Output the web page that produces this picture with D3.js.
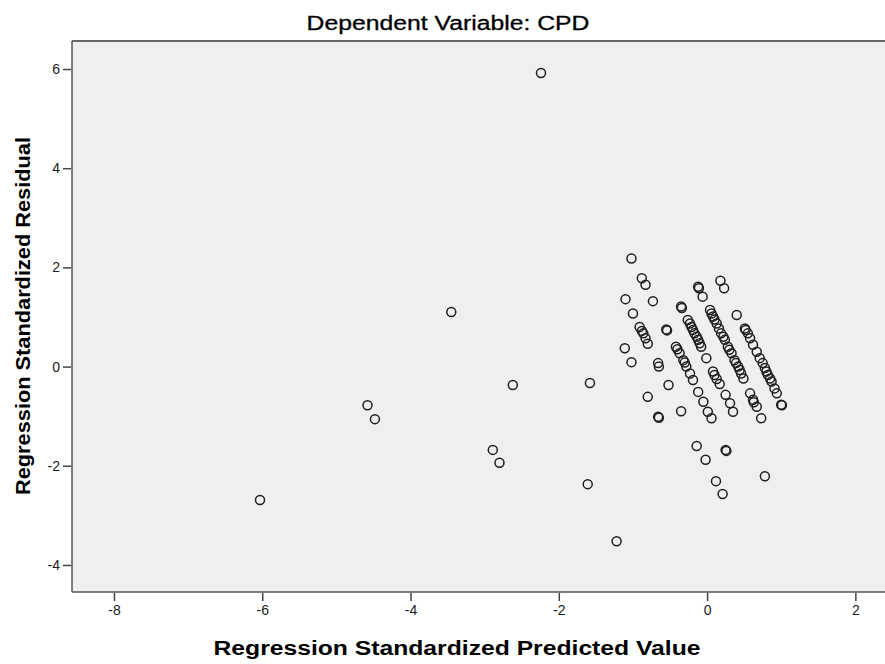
<!DOCTYPE html>
<html>
<head>
<meta charset="utf-8">
<script src="https://cdn.jsdelivr.net/npm/d3@7"></script>
<style>
html,body{margin:0;padding:0;background:#fff;}
svg{display:block;}
</style>
</head>
<body>
<svg id="chart" width="885" height="664"></svg>
<script>
// ---- data ----
const chartTitle = "Dependent Variable: CPD";
const xTitle = "Regression Standardized Predicted Value";
const yTitle = "Regression Standardized Residual";
const xTicks = [-8, -6, -4, -2, 0, 2];
const yTicks = [-4, -2, 0, 2, 4, 6];

const predicted = [
  -2.24,-3.45,-4.58,-4.48,-6.03,-2.62,-2.89,-2.80,-1.58,-1.61,-1.22,
  -1.02,-0.88,-0.83,-1.10,-0.73,-1.00,-0.91,-0.88,-0.86,-0.83,-0.80,-0.55,-0.54,-1.11,-1.02,-0.66,-0.65,-0.52,-0.80,-0.66,-0.65,-0.35,
  -0.42,-0.40,-0.37,-0.32,-0.30,-0.28,-0.23,-0.19,-0.12,-0.05,0.01,0.06,
  -0.35,-0.34,-0.26,-0.23,-0.21,-0.19,-0.17,-0.14,-0.12,-0.10,-0.08,-0.01,0.08,0.10,0.13,0.17,0.25,0.31,0.35,
  -0.12,-0.11,-0.06,0.18,0.23,
  0.04,0.06,0.08,0.10,0.13,0.16,0.19,0.22,0.24,0.28,0.30,0.33,0.37,0.39,0.42,0.44,0.46,0.49,
  0.40,
  0.51,0.52,0.55,0.58,0.62,0.67,0.71,0.75,0.78,0.80,0.82,0.85,0.87,0.91,0.94,1.00,1.01,
  0.58,0.62,0.63,0.67,0.73,
  -0.14,-0.02,0.25,0.26,0.12,0.21,0.78
];
const residual = [
  5.92,1.10,-0.78,-1.06,-2.69,-0.37,-1.68,-1.94,-0.33,-2.37,-3.52,
  2.18,1.78,1.65,1.36,1.32,1.07,0.80,0.72,0.67,0.57,0.46,0.75,0.73,0.37,0.09,0.07,0.00,-0.37,-0.61,-1.01,-1.03,-0.90,
  0.40,0.35,0.27,0.13,0.08,0.00,-0.14,-0.27,-0.51,-0.71,-0.91,-1.04,
  1.21,1.18,0.94,0.87,0.80,0.74,0.67,0.60,0.54,0.47,0.40,0.17,-0.10,-0.17,-0.25,-0.35,-0.57,-0.74,-0.91,
  1.61,1.58,1.41,1.73,1.58,
  1.14,1.07,1.01,0.95,0.87,0.77,0.67,0.60,0.54,0.40,0.34,0.27,0.13,0.07,0.00,-0.07,-0.14,-0.24,
  1.04,
  0.77,0.74,0.67,0.57,0.44,0.30,0.17,0.07,-0.03,-0.10,-0.17,-0.24,-0.30,-0.44,-0.54,-0.77,-0.78,
  -0.54,-0.67,-0.72,-0.81,-1.04,
  -1.60,-1.88,-1.68,-1.70,-2.31,-2.57,-2.21
];

// ---- layout ----
const svg = d3.select("#chart");
const L = 72, T = 41, B = 592, R = 885;

const x = d3.scaleLinear().domain([-8.566, 2.40]).range([L, R]);
const y = d3.scaleLinear().domain([-4.545, 6.565]).range([B, T]);

// plot background
svg.append("rect").attr("x", L).attr("y", T).attr("width", R - L).attr("height", B - T)
  .attr("fill", "#efefef");

// points
const pts = predicted.map((p, i) => ({p, r: residual[i]}));
svg.append("g").selectAll("circle").data(pts).enter().append("circle")
  .attr("cx", d => x(d.p)).attr("cy", d => y(d.r)).attr("r", 4.5)
  .attr("fill", "none").attr("stroke", "#1e1e1e").attr("stroke-width", 1.5);

// frame: top, left, bottom
svg.append("line").attr("x1", L).attr("x2", R).attr("y1", T).attr("y2", T)
  .attr("stroke", "#666").attr("stroke-width", 2);
svg.append("line").attr("x1", L).attr("x2", R).attr("y1", B).attr("y2", B)
  .attr("stroke", "#555").attr("stroke-width", 1.5);
svg.append("line").attr("x1", L).attr("x2", L).attr("y1", T).attr("y2", B)
  .attr("stroke", "#555").attr("stroke-width", 1.5);

const fmt = d => String(d); // plain hyphen-minus as in the reference

// axes
const xAxis = d3.axisBottom(x).tickValues(xTicks).tickSize(8).tickPadding(4).tickFormat(fmt);
const gx = svg.append("g").attr("transform", `translate(0,${B + 1})`).call(xAxis);
gx.select(".domain").remove();
gx.selectAll(".tick line").attr("stroke", "#444").attr("stroke-width", 1.5);
gx.selectAll(".tick text").attr("font-family", "Liberation Sans, Arial, sans-serif")
  .attr("font-size", 14).attr("fill", "#1a1a1a");

const yAxis = d3.axisLeft(y).tickValues(yTicks).tickSize(8).tickPadding(3).tickFormat(fmt);
const gy = svg.append("g").attr("transform", `translate(${L - 1},0)`).call(yAxis);
gy.select(".domain").remove();
gy.selectAll(".tick line").attr("stroke", "#444").attr("stroke-width", 1.5);
gy.selectAll(".tick text").attr("font-family", "Liberation Sans, Arial, sans-serif")
  .attr("font-size", 14).attr("fill", "#1a1a1a");

// titles
svg.append("text").attr("x", 448).attr("y", 30).attr("text-anchor", "middle")
  .attr("font-family", "Liberation Sans, Arial, sans-serif").attr("font-size", 20)
  .attr("textLength", 283).attr("lengthAdjust", "spacingAndGlyphs")
  .attr("fill", "#000").attr("stroke", "#000").attr("stroke-width", 0.3).text(chartTitle);

svg.append("text").attr("x", 457).attr("y", 655).attr("text-anchor", "middle")
  .attr("font-family", "Liberation Sans, Arial, sans-serif").attr("font-size", 20)
  .attr("font-weight", "bold").attr("textLength", 487).attr("lengthAdjust", "spacingAndGlyphs")
  .attr("fill", "#000").text(xTitle);

svg.append("text").attr("transform", "translate(30,316) rotate(-90)").attr("text-anchor", "middle")
  .attr("font-family", "Liberation Sans, Arial, sans-serif").attr("font-size", 20)
  .attr("font-weight", "bold").attr("textLength", 358).attr("lengthAdjust", "spacingAndGlyphs")
  .attr("fill", "#000").text(yTitle);
</script>
</body>
</html>
